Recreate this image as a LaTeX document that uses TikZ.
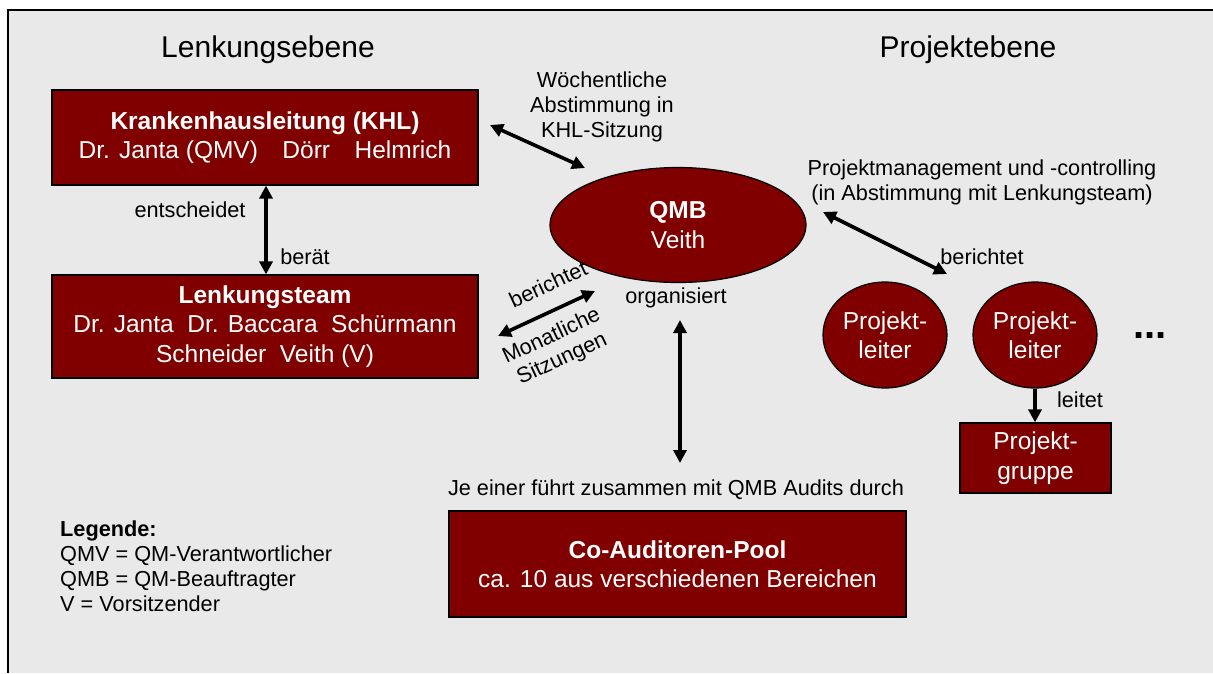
\documentclass[tikz,border=0pt]{standalone}
\usepackage{fontspec}
\setmainfont{Liberation Sans}
\usetikzlibrary{arrows.meta,shapes.geometric}
\definecolor{boxred}{HTML}{800000}
\definecolor{bggray}{HTML}{E9E9E9}
\begin{document}
\begin{tikzpicture}[x=1pt,y=-1pt,
  box/.style={draw=black,line width=1.2pt,fill=boxred,text=white,align=center,
    font=\fontsize{24.5}{29.5}\selectfont,inner sep=0pt},
  oval/.style={ellipse,draw=black,line width=1.2pt,fill=boxred,text=white,align=center,
    font=\fontsize{24.5}{29.5}\selectfont,inner sep=0pt},
  lbl/.style={align=center,inner sep=0pt,font=\fontsize{21.7}{25}\selectfont},
  ttl/.style={inner sep=0pt,font=\fontsize{30}{36}\selectfont},
  arr/.style={line width=3.6pt,{Triangle[length=13pt,width=13pt]}-{Triangle[length=13pt,width=13pt]}},
  arrone/.style={line width=3.6pt,-{Triangle[length=13pt,width=13pt]}}
]
\useasboundingbox (0,0) rectangle (1213,673);
\fill[white] (0,0) rectangle (1213,673);
\fill[bggray] (8,10) rectangle (1213,673);
\draw[line width=1.2pt] (8,673) -- (8,10) -- (1213,10);

% titles
\node[ttl] (t1) at (268,50) {Lenkungsebene};
\node[ttl] (t2) at (968,50) {Projektebene};

% boxes
\node[box,minimum width=426,minimum height=95] (khl) at (265,137.5)
  {\textbf{Krankenhausleitung (KHL)}\\Dr. Janta (QMV)\quad Dörr\quad Helmrich};
\node[box,minimum width=426,minimum height=103] (lt) at (265,326.5)
  {\textbf{Lenkungsteam}\\Dr. Janta\ \ Dr. Baccara\ \ Schürmann\\Schneider\ \ Veith (V)};
\node[oval,minimum width=256,minimum height=115] (qmb) at (678,225)
  {\textbf{QMB}\\Veith};
\node[box,minimum width=457,minimum height=106] (cap) at (677.5,564)
  {\textbf{Co-Auditoren-Pool}\\ca. 10 aus verschiedenen Bereichen};
\node[oval,minimum width=124,minimum height=106] (pl1) at (885,335)
  {Projekt-\\leiter};
\node[oval,minimum width=124,minimum height=106] (pl2) at (1035,335)
  {Projekt-\\leiter};
\node[box,minimum width=151,minimum height=70] (pg) at (1035.5,458)
  {Projekt-\\gruppe};
\node[inner sep=0pt,anchor=base,font=\fontsize{40}{40}\selectfont\bfseries] (dots) at (1150,338) {...};

% coordinates for free arrow ends
\coordinate (w1) at (490,125);
\coordinate (w2) at (585,168);
\coordinate (m1) at (498,336);
\coordinate (m2) at (595,291);
\coordinate (o1) at (680,320);
\coordinate (o2) at (680,463);
\coordinate (p1) at (823,212);
\coordinate (p2) at (947,274);

% connectors
\draw[arr] (khl.south -| 266,0) -- (lt.north -| 266,0);
\draw[arr] (w1) -- (w2);
\draw[arr] (m1) -- (m2);
\draw[arr] (o1) -- (o2);
\draw[arr] (p1) -- (p2);
\draw[arrone] (pl2.south) -- (pg.north -| pl2.south);

% labels
\node[lbl] (l1) at (190,210) {entscheidet};
\node[lbl] (l2) at (305,257) {berät};
\node[lbl] (l3) at (602,107) {Wöchentliche\\Abstimmung in\\KHL-Sitzung};
\node[lbl,rotate=25] (l4) at (548,284) {berichtet};
\node[lbl,rotate=25] (l5) at (557,348) {Monatliche\\Sitzungen};
\node[lbl] (l6) at (676,298) {organisiert};
\node[lbl] (l7) at (676,490) {Je einer führt zusammen mit QMB Audits durch};
\node[lbl] (l8) at (982,182) {Projektmanagement und -controlling\\(in Abstimmung mit Lenkungsteam)};
\node[lbl] (l9) at (982,257) {berichtet};
\node[lbl] (l10) at (1080,400) {leitet};

% legend
\node[lbl,align=left,anchor=west] (leg) at (60,566)
  {\textbf{Legende:}\\QMV = QM-Verantwortlicher\\QMB = QM-Beauftragter\\V = Vorsitzender};
\end{tikzpicture}
\end{document}
